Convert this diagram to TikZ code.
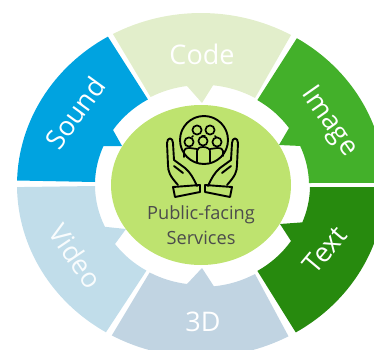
\documentclass[tikz,border=0pt]{standalone}
\usepackage{fontspec}
\setmainfont{Open Sans}
\definecolor{soundc}{RGB}{0,163,224}
\definecolor{codec}{RGB}{226,238,203}
\definecolor{imagec}{RGB}{67,176,42}
\definecolor{textc}{RGB}{39,138,14}
\definecolor{videoc}{RGB}{193,221,234}
\definecolor{threedc}{RGB}{193,212,226}
\definecolor{hubc}{RGB}{190,227,111}
\tikzset{
  seglabel/.style={text=white,font=\fontsize{27}{27}\selectfont,inner sep=0pt},
  iconline/.style={draw=black,line width=1.9pt,line join=round,line cap=round},
  iconfine/.style={iconline,line width=1.7pt},
}
\newcommand{\halfhand}{%
  \draw[iconline] (174,160) -- (173,143) .. controls (173,137) and (167,137) .. (167,143)
     -- (168,165) .. controls (168,172) and (170,176) .. (178,185);
  \draw[iconline] (174,160) -- (185,168) .. controls (190,172) and (194,179) .. (197,186);
  \draw[iconline] (174,166) -- (183,173);
  \draw[iconline] (173,187) -- (200,185) -- (200,192) -- (175,197) -- cycle;
}
\begin{document}
\begin{tikzpicture}[x=1pt,y=1pt]
\useasboundingbox (0,0) rectangle (374,349);
\clip (0,0) rectangle (374,349);
\coordinate (c) at (201,164);
% Code
\fill[codec] (c) ++(118.6:184 and 172) arc[start angle=118.6,end angle=60.7,x radius=184,y radius=172]
  -- (255,251) arc[start angle=60,end angle=84,x radius=106,y radius=99]
  -- (202,246) -- (187,263) arc[start angle=97.6,end angle=118.4,x radius=106,y radius=99] -- cycle;
% Sound
\fill[soundc] (c) ++(120.4:184 and 172) arc[start angle=120.4,end angle=178.5,x radius=184,y radius=172]
  -- (95,167) arc[start angle=178.3,end angle=156.9,x radius=106,y radius=99]
  -- (122,203) -- (113,219) arc[start angle=146.2,end angle=120.1,x radius=106,y radius=99] -- cycle;
% Image
\fill[imagec] (c) ++(58.6:184 and 172) arc[start angle=58.6,end angle=0.7,x radius=184,y radius=172]
  -- (309,166) arc[start angle=1.5,end angle=23.6,x radius=106,y radius=99]
  -- (279,204) -- (289,221) arc[start angle=34.8,end angle=58.5,x radius=106,y radius=99] -- cycle;
% Text
\fill[textc] (c) ++(-59:184 and 172) arc[start angle=-59,end angle=-0.7,x radius=184,y radius=172]
  -- (310,162) arc[start angle=-1,end angle=-22,x radius=106,y radius=99]
  -- (280,125) -- (291,108) arc[start angle=-33.7,end angle=-59,x radius=106,y radius=99] -- cycle;
% 3D
\fill[threedc] (c) ++(-119:184 and 172) arc[start angle=-119,end angle=-61.6,x radius=184,y radius=172]
  -- (255,75) arc[start angle=-60.5,end angle=-84,x radius=106,y radius=99]
  -- (202,81) -- (187,65) arc[start angle=-97.6,end angle=-119,x radius=106,y radius=99] -- cycle;
% Video
\fill[videoc] (c) ++(-121.1:184 and 172) arc[start angle=-121.1,end angle=-179.3,x radius=184,y radius=172]
  -- (95,163) arc[start angle=-179.4,end angle=-155,x radius=106,y radius=99]
  -- (126,120) -- (115,105) arc[start angle=-143.7,end angle=-120.6,x radius=106,y radius=99] -- cycle;
% hub
\fill[hubc] (c) ellipse[x radius=90,y radius=80];
% labels
\node[seglabel] (code) at (202,295) {Code};
\node[seglabel,rotate=54] (sound) at (75,236) {Sound};
\node[seglabel,rotate=-55] (image) at (329,227) {Image};
\node[seglabel,rotate=-56,text=white!90!videoc] (video) at (76,93) {Video};
\node[seglabel,rotate=50] (text) at (325,99) {Text};
\node[seglabel] (threed) at (203,27) {3D};
\node[text=black!70,font=\fontsize{18.2}{25}\selectfont,align=center,inner sep=0pt] (hub) at (201,124) {Public-facing\\Services};
% icon
\begin{scope}[shift={(0,349)},yscale=-1]
  \halfhand
  \draw[iconline] (204,140) circle[radius=24];
  \foreach \hx/\hy in {197/130,210/130,189/142,203/141,217/142}
    \draw[iconfine] (\hx,\hy) circle[radius=4.6];
  \draw[iconfine] (192,137) -- (193,136) (202,136) -- (205,136) (215,136) -- (216,137);
  \draw[iconfine] (197,162) -- (197,151) .. controls (197,149) and (199,147) .. (203,147)
     .. controls (207,147) and (210,149) .. (210,151) -- (210,162);
  \draw[iconfine] (184,157) -- (184,151) .. controls (184,149) and (186,148) .. (190,148) -- (197,149);
  \draw[iconfine] (223,156) -- (223,151) .. controls (223,149) and (221,148) .. (217,148) -- (210,149);
\end{scope}
\begin{scope}[shift={(405,349)},xscale=-1,yscale=-1]
  \halfhand
\end{scope}
\end{tikzpicture}
\end{document}
